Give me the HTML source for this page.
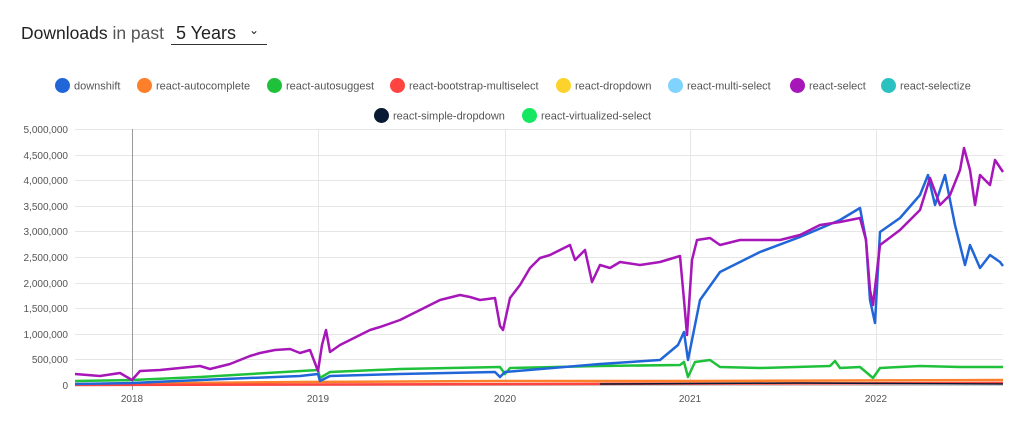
<!DOCTYPE html>
<html><head><meta charset="utf-8"><style>
body{margin:0;background:#fff;font-family:"Liberation Sans",sans-serif;}
.h{position:absolute;left:21px;top:23px;font-size:17.5px;color:#222;white-space:nowrap}
.h b{font-weight:normal}
.sel{position:absolute;left:171px;top:21px;width:96px;height:24px;border-bottom:1px solid #333;font-size:18px;color:#222;padding-left:5px;padding-top:2px;box-sizing:border-box}
.lg{position:absolute;font-size:11px;color:#555;white-space:nowrap}
.lg i{display:inline-block;width:15px;height:15px;border-radius:50%;vertical-align:middle;margin-right:4px;position:relative;top:-1px}
</style></head><body>
<div class="h"><b>Downloads</b> <span style="color:#555">in past</span></div>
<div class="sel">5 Years<span style="position:absolute;right:8px;top:2px;font-size:12px">⌄</span></div>
<div class="lg" style="left:55px;top:79px"><i style="background:#2166d8"></i>downshift</div>
<div class="lg" style="left:137px;top:79px"><i style="background:#fd7f2a"></i>react-autocomplete</div>
<div class="lg" style="left:267px;top:79px"><i style="background:#1fc13b"></i>react-autosuggest</div>
<div class="lg" style="left:390px;top:79px"><i style="background:#fe4440"></i>react-bootstrap-multiselect</div>
<div class="lg" style="left:556px;top:79px"><i style="background:#fdd22a"></i>react-dropdown</div>
<div class="lg" style="left:668px;top:79px"><i style="background:#80d3fe"></i>react-multi-select</div>
<div class="lg" style="left:790px;top:79px"><i style="background:#a616b8"></i>react-select</div>
<div class="lg" style="left:881px;top:79px"><i style="background:#2bc1c1"></i>react-selectize</div>
<div class="lg" style="left:374px;top:109px"><i style="background:#0a1a33"></i>react-simple-dropdown</div>
<div class="lg" style="left:522px;top:109px"><i style="background:#15e860"></i>react-virtualized-select</div>
<svg width="1024" height="423" style="position:absolute;left:0;top:0" font-family="Liberation Sans" font-size="10" fill="#555">
<g stroke="#e6e6e6" stroke-width="1">
<line x1="75" x2="1003" y1="129.5" y2="129.5"/><line x1="75" x2="1003" y1="155.5" y2="155.5"/><line x1="75" x2="1003" y1="180.5" y2="180.5"/><line x1="75" x2="1003" y1="206.5" y2="206.5"/><line x1="75" x2="1003" y1="231.5" y2="231.5"/><line x1="75" x2="1003" y1="257.5" y2="257.5"/><line x1="75" x2="1003" y1="283.5" y2="283.5"/><line x1="75" x2="1003" y1="308.5" y2="308.5"/><line x1="75" x2="1003" y1="334.5" y2="334.5"/><line x1="75" x2="1003" y1="359.5" y2="359.5"/>
<line x1="318.5" x2="318.5" y1="129" y2="385"/><line x1="505.5" x2="505.5" y1="129" y2="385"/><line x1="690.5" x2="690.5" y1="129" y2="385"/><line x1="876.5" x2="876.5" y1="129" y2="385"/>
</g>
<line x1="132.5" x2="132.5" y1="129" y2="390" stroke="#999"/>
<line x1="75" x2="1003" y1="385.5" y2="385.5" stroke="#ccc"/>
<g text-anchor="end">
<text x="68" y="133">5,000,000</text><text x="68" y="159">4,500,000</text><text x="68" y="184">4,000,000</text><text x="68" y="210">3,500,000</text><text x="68" y="235">3,000,000</text><text x="68" y="261">2,500,000</text><text x="68" y="287">2,000,000</text><text x="68" y="312">1,500,000</text><text x="68" y="338">1,000,000</text><text x="68" y="363">500,000</text><text x="68" y="389">0</text>
</g>
<g text-anchor="middle"><text x="132" y="402">2018</text><text x="318" y="402">2019</text><text x="505" y="402">2020</text><text x="690" y="402">2021</text><text x="876" y="402">2022</text></g>
<g fill="none" stroke-width="2.5" stroke-linejoin="round">
<polyline stroke="#fd7f2a" points="75,384 300,382 500,381 700,381 1003,380"/>
<polyline stroke="#fe4440" points="75,385 1003,383"/>
<polyline stroke="#0a1a33" stroke-width="1.5" points="600,384 800,383 1003,384"/>
<polyline stroke="#1fc13b" points="75,381 132,380 200,377 318,370 320,378 330,372 400,369 500,367 505,374 510,368 600,366 680,365 684,362 688,377 695,362 710,360 720,367 760,368 830,366 835,361 840,368 860,367 873,378 880,368 920,366 960,367 1003,367"/>
<polyline stroke="#2166d8" points="75,384 132,383 200,380 300,376 318,374 320,381 330,376 400,374 495,372 500,377 505,372 600,364 660,360 678,345 684,332 688,360 700,300 720,272 760,252 800,237 840,220 860,208 866,240 870,300 875,323 880,232 900,218 920,195 928,175 935,205 945,175 955,225 965,265 970,245 980,268 990,255 1000,262 1003,266"/>
<polyline stroke="#a616b8" points="75,374 100,376 120,373 132,380 140,371 160,370 180,368 200,366 210,369 230,364 250,356 260,353 275,350 290,349 300,353 310,350 318,371 322,345 326,330 330,352 340,345 350,340 370,330 380,327 400,320 420,310 440,300 460,295 470,297 480,300 495,298 500,326 503,330 510,298 520,285 530,268 540,258 550,255 560,250 570,245 575,260 585,250 592,282 600,265 610,268 620,262 640,265 660,262 680,256 684,300 687,335 692,260 697,240 710,238 720,245 740,240 760,240 780,240 800,235 820,225 840,222 860,218 866,240 870,290 873,305 880,245 900,230 920,210 930,178 940,205 950,195 960,170 964,148 970,170 975,205 980,175 990,185 995,160 1003,172"/>
</g>
</svg>
</body></html>
